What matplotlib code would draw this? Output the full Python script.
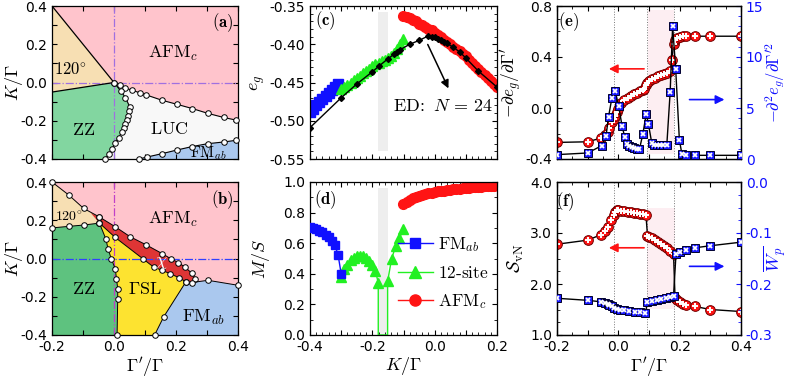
import matplotlib
matplotlib.use("Agg")
import matplotlib.pyplot as plt
from matplotlib.ticker import MultipleLocator, FuncFormatter, FormatStrFormatter
from matplotlib.lines import Line2D

plt.rcParams['mathtext.fontset'] = 'cm'
plt.rcParams['font.family'] = 'DejaVu Sans'
plt.rcParams['axes.unicode_minus'] = False
plt.rcParams['axes.linewidth'] = 0.9

# ---------------- data: (a) phase diagram ----------------
a_120_top_x = [-0.2, 0.0]
a_120_top_y = [0.4, 0.0]
a_120_bot_x = [-0.2, 0.0]
a_120_bot_y = [-0.05, 0.0]
a_afm_x = [0.0, 0.020, 0.037, 0.058, 0.083, 0.104, 0.155, 0.203, 0.252, 0.302, 0.354, 0.395]
a_afm_y = [0.0, -0.014, -0.030, -0.040, -0.054, -0.065, -0.093, -0.114, -0.136, -0.161, -0.183, -0.197]
a_zz_x = [0.0, 0.023, 0.037, 0.051, 0.047, 0.045, 0.042, 0.037, 0.031, 0.026, 0.015, 0.004, -0.006, -0.017, -0.030]
a_zz_y = [0.0, -0.047, -0.079, -0.128, -0.148, -0.175, -0.197, -0.218, -0.239, -0.259, -0.288, -0.314, -0.349, -0.376, -0.400]
a_fm_x = [0.080, 0.106, 0.155, 0.203, 0.252, 0.302, 0.354, 0.395]
a_fm_y = [-0.400, -0.390, -0.372, -0.353, -0.335, -0.320, -0.311, -0.302]

# ---------------- data: (b) phase diagram ----------------
b_120_top_x = [-0.2, -0.146, -0.098, -0.047]
b_120_top_y = [0.4, 0.332, 0.262, 0.217]
b_120_bot_x = [-0.2, -0.146, -0.098, -0.047]
b_120_bot_y = [0.16, 0.168, 0.175, 0.185]
b_chi_left = (-0.075, 0.238)
b_chi_up_x = [-0.047, 0.004, 0.052, 0.103, 0.155, 0.185, 0.208, 0.230, 0.252, 0.262]
b_chi_up_y = [0.217, 0.166, 0.114, 0.072, 0.026, -0.003, -0.021, -0.047, -0.078, -0.105]
b_chi_lo_x = [-0.047, 0.004, 0.092, 0.128, 0.155, 0.182, 0.209, 0.232]
b_chi_lo_y = [0.185, 0.110, 0.0, -0.045, -0.062, -0.080, -0.100, -0.122]
b_afm_fm_x = [0.250, 0.303, 0.400]
b_afm_fm_y = [-0.126, -0.114, -0.140]
b_sl_fm_x = [0.232, 0.160, 0.131]
b_sl_fm_y = [-0.122, -0.306, -0.400]
b_zz_sl_x = [-0.047, -0.026, -0.019, -0.009, 0.004, 0.008, 0.012, 0.012, 0.010]
b_zz_sl_y = [0.185, 0.101, 0.049, 0.0, -0.054, -0.105, -0.157, -0.210, -0.400]

# ---------------- data: (c) energies ----------------
c_fm_K = [-0.40, -0.39, -0.38, -0.37, -0.36, -0.35, -0.34, -0.33, -0.32, -0.31]
c_fm_e = [-0.488, -0.484, -0.480, -0.476, -0.472, -0.468, -0.464, -0.460, -0.456, -0.452]
c_12_K = [-0.30, -0.29, -0.28, -0.27, -0.26, -0.25, -0.24, -0.23, -0.22, -0.21, -0.20,
          -0.19, -0.18, -0.17, -0.16, -0.15, -0.14, -0.13, -0.12, -0.11, -0.10]
c_12_e = [-0.459, -0.456, -0.453, -0.450, -0.447, -0.444, -0.441, -0.438, -0.435, -0.432, -0.429,
          -0.426, -0.424, -0.422, -0.420, -0.418, -0.415, -0.411, -0.406, -0.400, -0.393]
afm_K = [-0.10, -0.09, -0.08, -0.07, -0.06, -0.05, -0.04, -0.03, -0.02, -0.01, 0.00,
         0.01, 0.02, 0.03, 0.04, 0.05, 0.06, 0.07, 0.08, 0.09, 0.10,
         0.11, 0.12, 0.13, 0.14, 0.15, 0.16, 0.17, 0.18, 0.19, 0.20]
c_afm_e = [-0.363, -0.364, -0.366, -0.368, -0.370, -0.373, -0.375, -0.378, -0.380, -0.382, -0.385,
           -0.388, -0.391, -0.394, -0.397, -0.400, -0.403, -0.406, -0.409, -0.413, -0.416,
           -0.420, -0.424, -0.428, -0.432, -0.436, -0.440, -0.444, -0.448, -0.452, -0.456]
c_ed_K = [-0.40, -0.30, -0.25, -0.20, -0.18, -0.15, -0.13, -0.12, -0.11, -0.08, -0.05, -0.02,
          -0.01, 0.00, 0.01, 0.02, 0.03, 0.04, 0.06, 0.08, 0.10, 0.14, 0.20]
c_ed_e = [-0.509, -0.470, -0.452, -0.436, -0.429, -0.419, -0.413, -0.410, -0.407, -0.400, -0.395, -0.389,
          -0.390, -0.391, -0.393, -0.395, -0.397, -0.399, -0.404, -0.410, -0.418, -0.435, -0.456]
grey_band = [-0.181, -0.149]

# ---------------- data: (d) order parameter ----------------
d_fm_K = [-0.40, -0.39, -0.38, -0.37, -0.36, -0.35, -0.34, -0.33, -0.32, -0.31, -0.30]
d_fm_M = [0.705, 0.700, 0.690, 0.680, 0.670, 0.655, 0.640, 0.615, 0.585, 0.525, 0.400]
d_12_K = [-0.30, -0.29, -0.28, -0.27, -0.26, -0.25, -0.24, -0.23, -0.22, -0.21, -0.20, -0.19,
          -0.181, -0.181, -0.151, -0.151, -0.138, -0.125, -0.113, -0.10]
d_12_M = [0.38, 0.43, 0.46, 0.49, 0.505, 0.515, 0.518, 0.515, 0.505, 0.485, 0.46, 0.42,
          0.34, 0.0, 0.0, 0.35, 0.50, 0.58, 0.635, 0.69]
d_afm_M = [0.855, 0.872, 0.885, 0.895, 0.903, 0.910, 0.916, 0.921, 0.926, 0.930, 0.934,
           0.938, 0.941, 0.944, 0.947, 0.950, 0.952, 0.955, 0.957, 0.959, 0.961,
           0.963, 0.965, 0.967, 0.969, 0.970, 0.972, 0.973, 0.975, 0.976, 0.978]

# ---------------- data: (e) derivatives ----------------
e_red_x = [-0.2, -0.1, -0.055, -0.045, -0.035, -0.03, -0.02, -0.015, -0.01, -0.005,
           0.0, 0.01, 0.02, 0.03, 0.04, 0.05, 0.06, 0.07, 0.08, 0.085,
           0.09, 0.095, 0.10, 0.11, 0.12, 0.13, 0.14, 0.15, 0.16, 0.17,
           0.175, 0.18, 0.185, 0.19, 0.20, 0.21, 0.22, 0.25, 0.3, 0.4]
e_red_y = [-0.27, -0.265, -0.235, -0.21, -0.185, -0.16, -0.11, -0.085, -0.06, -0.035,
           -0.01, 0.04, 0.066, 0.080, 0.093, 0.106, 0.119, 0.132, 0.143, 0.15,
           0.18, 0.197, 0.212, 0.226, 0.238, 0.248, 0.258, 0.268, 0.278, 0.29,
           0.38, 0.50, 0.53, 0.548, 0.56, 0.562, 0.563, 0.563, 0.563, 0.563]
e_blue_x = [-0.2, -0.1, -0.054, -0.04, -0.032, -0.021, -0.01, 0.001, 0.012, 0.021,
            0.028, 0.036, 0.044, 0.052, 0.06, 0.069, 0.08, 0.091, 0.098, 0.109,
            0.117, 0.126, 0.135, 0.145, 0.158, 0.169, 0.177, 0.187, 0.199, 0.207,
            0.22, 0.25, 0.3, 0.4]
e_blue_y = [0.43, 0.59, 1.31, 2.29, 4.13, 5.99, 6.65, 5.17, 3.27, 2.13,
            1.47, 1.31, 1.15, 1.08, 1.02, 0.98, 2.46, 4.42, 3.44, 1.57,
            1.38, 1.34, 1.34, 1.34, 1.34, 6.55, 13.03, 8.84, 1.9, 0.52,
            0.43, 0.36, 0.36, 0.36]

# ---------------- data: (f) entanglement entropy and flux ----------------
f_red_x = [-0.2, -0.1, -0.055, -0.045, -0.035, -0.025, -0.015, -0.01, -0.005, 0.0,
           0.01, 0.02, 0.03, 0.04, 0.05, 0.06, 0.07, 0.08, 0.09, 0.095,
           0.10, 0.11, 0.12, 0.13, 0.14, 0.15, 0.16, 0.17, 0.18, 0.185,
           0.19, 0.20, 0.21, 0.22, 0.25, 0.3, 0.4]
f_red_y = [2.78, 2.86, 2.97, 3.04, 3.12, 3.26, 3.36, 3.42, 3.45, 3.45,
           3.44, 3.43, 3.42, 3.41, 3.40, 3.39, 3.38, 3.37, 3.36, 2.95,
           2.93, 2.90, 2.86, 2.82, 2.78, 2.74, 2.70, 2.65, 2.58, 1.72,
           1.68, 1.64, 1.61, 1.59, 1.56, 1.50, 1.46]
f_blue_x = [-0.2, -0.1, -0.055, -0.045, -0.035, -0.03, -0.02, -0.015, -0.005, 0.005,
            0.02, 0.035, 0.055, 0.07, 0.088, 0.095, 0.11, 0.125, 0.14, 0.155,
            0.17, 0.18, 0.188, 0.2, 0.22, 0.25, 0.3, 0.4]
f_blue_y = [-0.228, -0.232, -0.235, -0.237, -0.239, -0.241, -0.244, -0.247, -0.249, -0.250,
            -0.250, -0.252, -0.254, -0.255, -0.257, -0.236, -0.234, -0.232, -0.230, -0.228,
            -0.225, -0.223, -0.142, -0.137, -0.134, -0.129, -0.125, -0.118]
trans_x = [-0.013, 0.093, 0.183]
pink_band = [0.097, 0.181]

# ---------------- colours ----------------
PINK = '#ffc4cc'
TAN = '#f7dfb3'
GREEN_A = '#82d6a0'
GREEN_B = '#5ec27f'
LUC = '#f8f8f8'
BLUE_FM = '#aac8ee'
YELLOW = '#fde330'
RED_CHI = '#de3535'
C_BLUE = '#1010ff'
C_GREEN = '#22f022'
C_RED = '#ff1414'

fig = plt.figure(figsize=(7.89, 3.80), dpi=100)
W, H = 789.0, 380.0


def pos(l, r, t, b):
    return [l / W, 1 - b / H, (r - l) / W, (b - t) / H]


def lab_every(step, fmt='%.1f'):
    def f(v, p):
        k = v / step
        if abs(k - round(k)) < 1e-6:
            if abs(v) < 1e-9:
                v = 0.0
            return fmt % v
        return ''
    return FuncFormatter(f)


def style(ax, xmaj, xmin, ymaj, ymin, xfmt, yfmt, xlabels, right=True):
    ax.xaxis.set_major_locator(MultipleLocator(xmaj))
    if xmin:
        ax.xaxis.set_minor_locator(MultipleLocator(xmin))
    ax.yaxis.set_major_locator(MultipleLocator(ymaj))
    if ymin:
        ax.yaxis.set_minor_locator(MultipleLocator(ymin))
    ax.xaxis.set_major_formatter(xfmt)
    ax.yaxis.set_major_formatter(yfmt)
    ax.tick_params(which='major', length=3.5, width=0.8, direction='in',
                   top=True, right=right, labelsize=10)
    ax.tick_params(which='minor', length=2.0, width=0.6, direction='in',
                   top=True, right=right)
    ax.tick_params(labelbottom=xlabels)


def left_label(ax, text, right_edge_px, left_px, width_px, size=13):
    ax.set_ylabel(text, fontsize=size)
    ax.yaxis.set_label_coords((right_edge_px - left_px) / width_px, 0.5)


dot = dict(marker='o', ms=4, mfc='white', mec='black', mew=0.7)
serif = 13

# ================= (a) =================
axA = fig.add_axes(pos(52, 238, 6, 159))
axA.set_xlim(-0.2, 0.4)
axA.set_ylim(-0.4, 0.4)
axA.axhspan(-0.4, 0.4, color=PINK, lw=0, zorder=0)
axA.fill(a_120_top_x + a_120_bot_x[::-1], a_120_top_y + a_120_bot_y[::-1],
         color=TAN, lw=0, zorder=1)
axA.fill(a_120_bot_x + a_zz_x + [-0.2], a_120_bot_y + a_zz_y + [-0.4],
         color=GREEN_A, lw=0, zorder=1)
axA.fill(a_afm_x + [0.4, 0.4] + a_fm_x[::-1] + a_zz_x[::-1],
         a_afm_y + [a_afm_y[-1], a_fm_y[-1]] + a_fm_y[::-1] + a_zz_y[::-1],
         color=LUC, lw=0, zorder=1)
axA.fill(a_fm_x + [0.4, 0.4], a_fm_y + [a_fm_y[-1], -0.4], color=BLUE_FM, lw=0, zorder=1)
axA.plot(a_120_top_x, a_120_top_y, color='k', lw=0.9, zorder=3)
axA.plot(a_120_bot_x, a_120_bot_y, color='k', lw=0.9, zorder=3)
axA.axvline(0.0, color='#a070e0', lw=0.9, ls='-.', zorder=2)
axA.axhline(0.0, color='#a070e0', lw=0.9, ls='-.', zorder=2)
for xs, ys in [(a_afm_x, a_afm_y), (a_zz_x, a_zz_y), (a_fm_x, a_fm_y)]:
    axA.plot(xs, ys, color='k', lw=0.8, zorder=4, clip_on=False, **dot)
axA.text(0.19, 0.15, r'$\mathrm{AFM}_c$', fontsize=serif, ha='center', va='center')
axA.text(-0.14, 0.07, r'$120^{\circ}$', fontsize=12, ha='center', va='center')
axA.text(-0.098, -0.25, r'$\mathrm{ZZ}$', fontsize=serif, ha='center', va='center')
axA.text(0.18, -0.245, r'$\mathrm{LUC}$', fontsize=serif, ha='center', va='center')
axA.text(0.305, -0.372, r'$\mathrm{FM}_{ab}$', fontsize=11, ha='center', va='center')
axA.text(0.35, 0.315, r'$\mathbf{(a)}$', fontsize=12, ha='center', va='center')
left_label(axA, r'$K/\Gamma$', 25, 52, 186)
style(axA, 0.1, None, 0.1, None, lab_every(0.2), lab_every(0.2), False)

# ================= (b) =================
axB = fig.add_axes(pos(52, 238, 182, 335))
axB.set_xlim(-0.2, 0.4)
axB.set_ylim(-0.4, 0.4)
axB.axhspan(-0.4, 0.4, color=PINK, lw=0, zorder=0)
axB.fill(b_120_top_x + b_120_bot_x[::-1], b_120_top_y + b_120_bot_y[::-1],
         color=TAN, lw=0, zorder=1)
axB.fill([b_chi_left[0]] + b_chi_up_x + [b_afm_fm_x[0]] + b_chi_lo_x[::-1],
         [b_chi_left[1]] + b_chi_up_y + [b_afm_fm_y[0]] + b_chi_lo_y[::-1],
         color=RED_CHI, lw=0, zorder=1)
axB.fill(b_120_bot_x + b_zz_sl_x + [-0.2], b_120_bot_y + b_zz_sl_y + [-0.4],
         color=GREEN_B, lw=0, zorder=1)
axB.fill(b_chi_lo_x + b_sl_fm_x[1:] + b_zz_sl_x[::-1],
         b_chi_lo_y + b_sl_fm_y[1:] + b_zz_sl_y[::-1], color=YELLOW, lw=0, zorder=1)
axB.fill(b_sl_fm_x + [0.4] + b_afm_fm_x[::-1], b_sl_fm_y + [-0.4] + b_afm_fm_y[::-1],
         color=BLUE_FM, lw=0, zorder=1)
axB.axvline(0.0, color='#c040c8', lw=0.9, ls='-.', zorder=2)
axB.axhline(0.0, color='#3040ff', lw=0.9, ls='-.', zorder=2)
for xs, ys in [(b_120_top_x, b_120_top_y), (b_120_bot_x, b_120_bot_y),
               (b_chi_up_x, b_chi_up_y), (b_chi_lo_x, b_chi_lo_y),
               (b_afm_fm_x, b_afm_fm_y), (b_sl_fm_x, b_sl_fm_y), (b_zz_sl_x, b_zz_sl_y)]:
    axB.plot(xs, ys, color='k', lw=0.7, zorder=4, clip_on=False, **dot)
axB.text(0.19, 0.205, r'$\mathrm{AFM}_c$', fontsize=serif, ha='center', va='center')
axB.text(-0.145, 0.215, r'$120^{\circ}$', fontsize=10, ha='center', va='center')
axB.text(-0.098, -0.16, r'$\mathrm{ZZ}$', fontsize=serif, ha='center', va='center')
axB.text(0.10, -0.16, r'$\Gamma\mathrm{SL}$', fontsize=serif, ha='center', va='center')
axB.text(0.29, -0.31, r'$\mathrm{FM}_{ab}$', fontsize=serif, ha='center', va='center')
axB.text(0.153, -0.018, r'$\chi$', fontsize=13, color='white', ha='center', va='center', zorder=5)
axB.text(0.35, 0.31, r'$\mathbf{(b)}$', fontsize=12, ha='center', va='center')
left_label(axB, r'$K/\Gamma$', 25, 52, 186)
axB.set_xlabel(r"$\Gamma'/\Gamma$", fontsize=13, labelpad=1)
style(axB, 0.1, None, 0.1, None, lab_every(0.2), lab_every(0.2), True)

# ================= (c) =================
axC = fig.add_axes(pos(310, 497, 6, 159))
axC.set_xlim(-0.4, 0.2)
axC.set_ylim(-0.55, -0.35)
axC.axvspan(grey_band[0], grey_band[1], ymin=0.05, ymax=0.96, color='#eeeeee', lw=0, zorder=0)
axC.plot(c_fm_K, c_fm_e, ls='none', marker='s', ms=6.5, color=C_BLUE, zorder=2)
axC.plot(c_12_K, c_12_e, ls='none', marker='^', ms=7.5, color=C_GREEN, zorder=2)
axC.plot(afm_K, c_afm_e, ls='none', marker='o', ms=7, color=C_RED, zorder=2)
axC.plot(c_ed_K, c_ed_e, color='k', lw=1.0, marker='D', ms=3, zorder=4)
axC.annotate('', xy=(0.048, -0.461), xytext=(-0.026, -0.397),
             arrowprops=dict(arrowstyle='-|>', color='k', lw=1.1, mutation_scale=12))
axC.text(0.025, -0.481, r'$\mathrm{ED\!:}\ N\,=\,24$', fontsize=13, ha='center', va='center')
axC.text(-0.352, -0.369, r'$\mathbf{(c)}$', fontsize=12, ha='center', va='center')
left_label(axC, r'$e_g$', 267, 310, 187)
style(axC, 0.1, 0.02, 0.05, 0.01, lab_every(0.2), FormatStrFormatter('%.2f'), False)

# ================= (d) =================
axD = fig.add_axes(pos(310, 497, 182, 335))
axD.set_xlim(-0.4, 0.2)
axD.set_ylim(0.0, 1.0)
axD.axvspan(grey_band[0], grey_band[1], ymin=0.0, ymax=0.96, color='#eeeeee', lw=0, zorder=0)
axD.plot(d_fm_K, d_fm_M, color=C_BLUE, lw=1.0, marker='s', ms=6, zorder=3)
mk = [i for i, m in enumerate(d_12_M) if m > 0]
axD.plot(d_12_K, d_12_M, color=C_GREEN, lw=1.0, marker='^', ms=6.5, markevery=mk, zorder=2)
axD.plot(afm_K, d_afm_M, color=C_RED, lw=1.0, marker='o', ms=7, zorder=2)
handles = [Line2D([], [], color=C_BLUE, lw=1.0, marker='s', ms=7),
           Line2D([], [], color=C_GREEN, lw=1.0, marker='^', ms=8),
           Line2D([], [], color=C_RED, lw=1.0, marker='o', ms=8)]
axD.legend(handles, [r'$\mathrm{FM}_{ab}$', r'$\mathrm{12\text{-}site}$', r'$\mathrm{AFM}_c$'],
           loc='center left', bbox_to_anchor=(0.47, 0.405), frameon=False, fontsize=12.5,
           handlelength=2.0, handletextpad=0.3, labelspacing=0.55, borderpad=0, borderaxespad=0)
axD.text(-0.352, 0.885, r'$\mathbf{(d)}$', fontsize=12, ha='center', va='center')
left_label(axD, r'$M/S$', 272, 310, 187)
axD.set_xlabel(r'$K/\Gamma$', fontsize=13, labelpad=1)
style(axD, 0.1, 0.02, 0.2, 0.1, lab_every(0.2), FormatStrFormatter('%.1f'), True)


def red_plus(ax, x, y):
    ax.plot(x, y, color='k', lw=1.0, zorder=3)
    ax.plot(x, y, ls='none', marker='o', ms=7, mfc=C_RED, mec='#700000', mew=0.7, zorder=4)
    ax.plot(x, y, ls='none', marker='+', ms=5, mec='white', mew=1.4, zorder=5)


def blue_cross(ax, x, y):
    ax.plot(x, y, color='k', lw=1.0, zorder=3)
    ax.plot(x, y, ls='none', marker='s', ms=6, mfc='#1a1aff', mec='#000030', mew=0.7, zorder=4)
    ax.plot(x, y, ls='none', marker='x', ms=3.2, mec='white', mew=1.3, zorder=5)


# ================= (e) =================
axE = fig.add_axes(pos(557, 741, 6, 159))
axE.set_xlim(-0.2, 0.4)
axE.set_ylim(-0.4, 0.8)
axE.axvspan(pink_band[0], pink_band[1], ymin=0.03, ymax=0.975, color='#fdeef2', lw=0, zorder=0)
for xv in trans_x:
    axE.axvline(xv, color='#777777', lw=0.7, ls=':', zorder=1)
red_plus(axE, e_red_x, e_red_y)
axE.annotate('', xy=(-0.04, 0.307), xytext=(0.093, 0.307),
             arrowprops=dict(arrowstyle='-|>', color=C_RED, lw=1.2, mutation_scale=13), zorder=6)
axE.annotate('', xy=(0.355, 0.066), xytext=(0.223, 0.066),
             arrowprops=dict(arrowstyle='-|>', color=C_BLUE, lw=1.2, mutation_scale=13), zorder=6)
axE.text(-0.162, 0.68, r'$\mathbf{(e)}$', fontsize=12, ha='center', va='center')
left_label(axE, r"$-\partial e_g/\partial\Gamma^{\prime}$", 523, 557, 184, size=12.5)
style(axE, 0.1, 0.05, 0.4, 0.1, lab_every(0.2), FormatStrFormatter('%.1f'), False, right=False)
axE2 = axE.twinx()
axE2.set_ylim(0, 15)
blue_cross(axE2, e_blue_x, e_blue_y)
axE2.yaxis.set_major_locator(MultipleLocator(5))
axE2.yaxis.set_minor_locator(MultipleLocator(1))
axE2.tick_params(axis='y', which='major', direction='in', length=3.5, width=0.8,
                 colors=C_BLUE, labelsize=10)
axE2.tick_params(axis='y', which='minor', direction='in', length=2.0, width=0.6, colors=C_BLUE)
axE2.set_ylabel(r"$-\partial^2 e_g/\partial\Gamma^{\prime 2}$", fontsize=12, color=C_BLUE)
axE2.yaxis.set_label_coords((763 - 557) / 184.0, 0.5)

# ================= (f) =================
axF = fig.add_axes(pos(557, 741, 182, 335))
axF.set_xlim(-0.2, 0.4)
axF.set_ylim(1.0, 4.0)
axF.axvspan(pink_band[0] - 0.002, pink_band[1] + 0.004, ymin=0.17, ymax=0.827,
            color='#fdeef2', lw=0, zorder=0)
for xv in trans_x:
    axF.axvline(xv, color='#777777', lw=0.7, ls=':', zorder=1)
red_plus(axF, f_red_x, f_red_y)
axF.annotate('', xy=(-0.04, 2.71), xytext=(0.093, 2.71),
             arrowprops=dict(arrowstyle='-|>', color=C_RED, lw=1.2, mutation_scale=13), zorder=6)
axF.annotate('', xy=(0.355, 2.346), xytext=(0.223, 2.346),
             arrowprops=dict(arrowstyle='-|>', color=C_BLUE, lw=1.2, mutation_scale=13), zorder=6)
axF.text(-0.172, 3.62, r'$\mathbf{(f)}$', fontsize=12, ha='center', va='center')
left_label(axF, r'$\mathcal{S}_{\mathrm{vN}}$', 526, 557, 184)
axF.set_xlabel(r"$\Gamma'/\Gamma$", fontsize=13, labelpad=1)
style(axF, 0.1, 0.05, 1.0, 0.25, lab_every(0.2), FormatStrFormatter('%.1f'), True, right=False)
axF2 = axF.twinx()
axF2.set_ylim(-0.3, 0.0)
blue_cross(axF2, f_blue_x, f_blue_y)
axF2.yaxis.set_major_locator(MultipleLocator(0.1))
axF2.yaxis.set_minor_locator(MultipleLocator(0.025))
axF2.yaxis.set_major_formatter(lab_every(0.1))
axF2.tick_params(axis='y', which='major', direction='in', length=3.5, width=0.8,
                 colors=C_BLUE, labelsize=10)
axF2.tick_params(axis='y', which='minor', direction='in', length=2.0, width=0.6, colors=C_BLUE)
axF2.set_ylabel(r'$\overline{W_p}$', fontsize=13, color=C_BLUE)
axF2.yaxis.set_label_coords((762 - 557) / 184.0, 0.5)

fig.savefig('out.png', dpi=100)
